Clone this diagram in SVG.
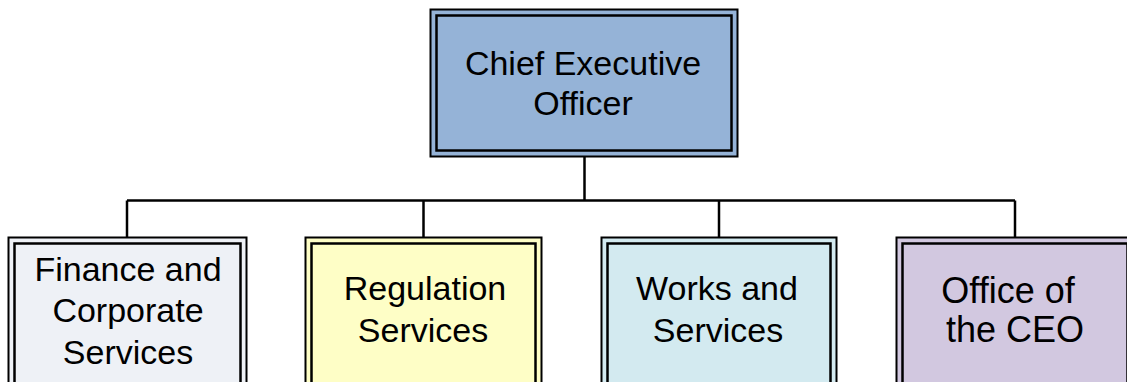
<svg xmlns="http://www.w3.org/2000/svg" width="1127" height="382" viewBox="0 0 1127 382">
  <style>
    .outer { stroke: #000; stroke-width: 2; }
    .inner { fill: none; stroke: #000; stroke-width: 2.5; }
    .wire { fill: none; stroke: #000; stroke-width: 2.5; }
    .label { font-family: "Liberation Sans", Arial, sans-serif; font-size: 34px; fill: #000; text-anchor: middle; }
  </style>
  <rect width="1127" height="382" fill="#fff"/>

  <!-- reporting lines -->
  <g id="connectors">
    <path class="wire" d="M584.5 156 V200.5"/>
    <path class="wire" d="M127 200.5 H1015"/>
    <path class="wire" d="M127 200.5 V237"/>
    <path class="wire" d="M423.5 200.5 V237"/>
    <path class="wire" d="M719 200.5 V237"/>
    <path class="wire" d="M1015 200.5 V237"/>
  </g>

  <g id="ceo">
    <rect class="outer" x="430.5" y="9.5" width="307" height="147" fill="#95B3D7"/>
    <rect class="inner" x="436.5" y="15.5" width="295" height="135"/>
    <text class="label" x="583" y="75">Chief Executive</text>
    <text class="label" x="583" y="115">Officer</text>
  </g>

  <g id="finance">
    <rect class="outer" x="8.5" y="237.5" width="238" height="160" fill="#EEF1F6"/>
    <rect class="inner" x="14.5" y="243.5" width="226" height="150"/>
    <text class="label" x="128" y="281">Finance and</text>
    <text class="label" x="128" y="322">Corporate</text>
    <text class="label" x="128" y="364">Services</text>
  </g>

  <g id="regulation">
    <rect class="outer" x="305.5" y="237.5" width="236" height="160" fill="#FEFEC6"/>
    <rect class="inner" x="311.5" y="243.5" width="224" height="150"/>
    <text class="label" x="425" y="300">Regulation</text>
    <text class="label" x="423" y="342">Services</text>
  </g>

  <g id="works">
    <rect class="outer" x="601.5" y="237.5" width="235" height="160" fill="#D3EAF0"/>
    <rect class="inner" x="607.5" y="243.5" width="223" height="150"/>
    <text class="label" x="717" y="300">Works and</text>
    <text class="label" x="718" y="342">Services</text>
  </g>

  <g id="office">
    <rect class="outer" x="896.5" y="237.5" width="237" height="160" fill="#D2C8E0"/>
    <rect class="inner" x="902.5" y="243.5" width="225" height="150"/>
    <text class="label" x="1008" y="303" style="font-size:36px">Office of</text>
    <text class="label" x="1015" y="342" style="font-size:36px">the CEO</text>
  </g>
</svg>
